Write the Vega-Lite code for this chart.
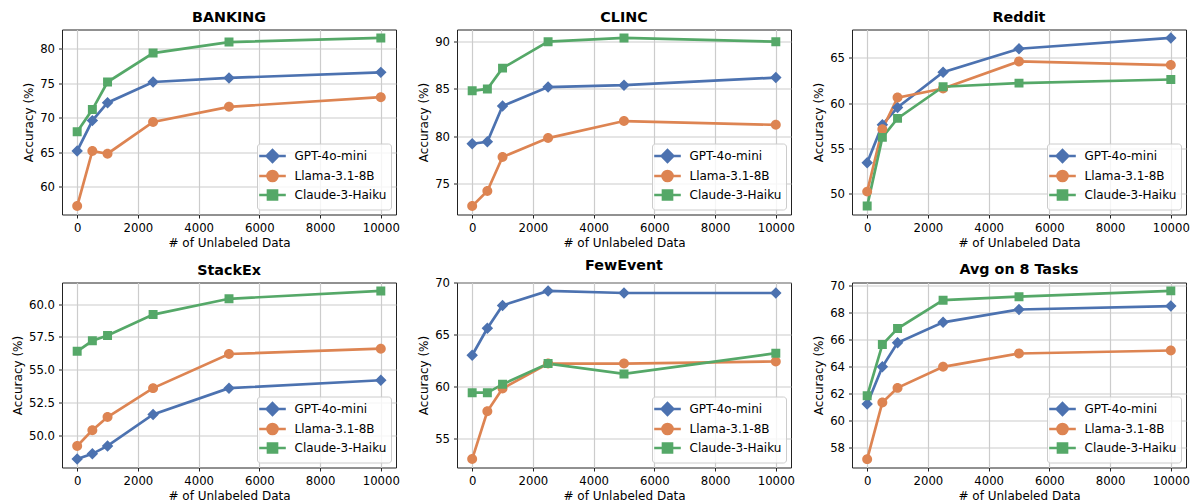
{
"$schema": "https://vega.github.io/schema/vega-lite/v6.json",
"background": "white",
"padding": {"left": 10, "top": 10.5, "right": 5, "bottom": 5},
"config": {
  "font": "DejaVu Sans",
  "view": {"stroke": "#222222", "strokeWidth": 1},
  "title": {"font": "DejaVu Sans", "fontSize": 14.3, "fontWeight": "bold", "color": "#000000", "offset": 4},
  "axis": {"labelFont": "DejaVu Sans", "labelFontSize": 11.7, "labelColor": "#000000", "titleFont": "DejaVu Sans", "titleFontSize": 12, "titleFontWeight": "normal", "titleColor": "#000000", "tickColor": "#222222", "tickSize": 3.5, "tickWidth": 1, "domain": false, "gridColor": "#cccccc", "gridWidth": 1.2, "labelPadding": 4, "titlePadding": 4, "labelFlush": false, "labelOverlap": false},
  "legend": {"orient": "bottom-right", "offset": 5, "symbolSize": 196, "symbolStrokeWidth": 2.7, "symbolOffset": 3, "labelFont": "DejaVu Sans", "labelFontSize": 12, "labelColor": "#000000", "padding": 4, "rowPadding": -3, "labelOffset": 13.5, "fillColor": "rgba(255,255,255,0.8)", "strokeColor": "#cccccc", "cornerRadius": 3}
},
"data": {"values": [
{"task":"BANKING","model":"GPT-4o-mini","n":0,"acc":65.2},
{"task":"BANKING","model":"GPT-4o-mini","n":500,"acc":69.6},
{"task":"BANKING","model":"GPT-4o-mini","n":1000,"acc":72.2},
{"task":"BANKING","model":"GPT-4o-mini","n":2500,"acc":75.2},
{"task":"BANKING","model":"GPT-4o-mini","n":5000,"acc":75.8},
{"task":"BANKING","model":"GPT-4o-mini","n":10000,"acc":76.6},
{"task":"BANKING","model":"Llama-3.1-8B","n":0,"acc":57.2},
{"task":"BANKING","model":"Llama-3.1-8B","n":500,"acc":65.2},
{"task":"BANKING","model":"Llama-3.1-8B","n":1000,"acc":64.8},
{"task":"BANKING","model":"Llama-3.1-8B","n":2500,"acc":69.4},
{"task":"BANKING","model":"Llama-3.1-8B","n":5000,"acc":71.6},
{"task":"BANKING","model":"Llama-3.1-8B","n":10000,"acc":73.0},
{"task":"BANKING","model":"Claude-3-Haiku","n":0,"acc":68.0},
{"task":"BANKING","model":"Claude-3-Haiku","n":500,"acc":71.2},
{"task":"BANKING","model":"Claude-3-Haiku","n":1000,"acc":75.2},
{"task":"BANKING","model":"Claude-3-Haiku","n":2500,"acc":79.4},
{"task":"BANKING","model":"Claude-3-Haiku","n":5000,"acc":81.0},
{"task":"BANKING","model":"Claude-3-Haiku","n":10000,"acc":81.6},
{"task":"CLINC","model":"GPT-4o-mini","n":0,"acc":79.2},
{"task":"CLINC","model":"GPT-4o-mini","n":500,"acc":79.4},
{"task":"CLINC","model":"GPT-4o-mini","n":1000,"acc":83.2},
{"task":"CLINC","model":"GPT-4o-mini","n":2500,"acc":85.2},
{"task":"CLINC","model":"GPT-4o-mini","n":5000,"acc":85.4},
{"task":"CLINC","model":"GPT-4o-mini","n":10000,"acc":86.2},
{"task":"CLINC","model":"Llama-3.1-8B","n":0,"acc":72.6},
{"task":"CLINC","model":"Llama-3.1-8B","n":500,"acc":74.2},
{"task":"CLINC","model":"Llama-3.1-8B","n":1000,"acc":77.8},
{"task":"CLINC","model":"Llama-3.1-8B","n":2500,"acc":79.8},
{"task":"CLINC","model":"Llama-3.1-8B","n":5000,"acc":81.6},
{"task":"CLINC","model":"Llama-3.1-8B","n":10000,"acc":81.2},
{"task":"CLINC","model":"Claude-3-Haiku","n":0,"acc":84.8},
{"task":"CLINC","model":"Claude-3-Haiku","n":500,"acc":85.0},
{"task":"CLINC","model":"Claude-3-Haiku","n":1000,"acc":87.2},
{"task":"CLINC","model":"Claude-3-Haiku","n":2500,"acc":90.0},
{"task":"CLINC","model":"Claude-3-Haiku","n":5000,"acc":90.4},
{"task":"CLINC","model":"Claude-3-Haiku","n":10000,"acc":90.0},
{"task":"Reddit","model":"GPT-4o-mini","n":0,"acc":53.4},
{"task":"Reddit","model":"GPT-4o-mini","n":500,"acc":57.6},
{"task":"Reddit","model":"GPT-4o-mini","n":1000,"acc":59.5},
{"task":"Reddit","model":"GPT-4o-mini","n":2500,"acc":63.4},
{"task":"Reddit","model":"GPT-4o-mini","n":5000,"acc":66.0},
{"task":"Reddit","model":"GPT-4o-mini","n":10000,"acc":67.2},
{"task":"Reddit","model":"Llama-3.1-8B","n":0,"acc":50.2},
{"task":"Reddit","model":"Llama-3.1-8B","n":500,"acc":57.1},
{"task":"Reddit","model":"Llama-3.1-8B","n":1000,"acc":60.6},
{"task":"Reddit","model":"Llama-3.1-8B","n":2500,"acc":61.6},
{"task":"Reddit","model":"Llama-3.1-8B","n":5000,"acc":64.6},
{"task":"Reddit","model":"Llama-3.1-8B","n":10000,"acc":64.2},
{"task":"Reddit","model":"Claude-3-Haiku","n":0,"acc":48.6},
{"task":"Reddit","model":"Claude-3-Haiku","n":500,"acc":56.2},
{"task":"Reddit","model":"Claude-3-Haiku","n":1000,"acc":58.3},
{"task":"Reddit","model":"Claude-3-Haiku","n":2500,"acc":61.8},
{"task":"Reddit","model":"Claude-3-Haiku","n":5000,"acc":62.2},
{"task":"Reddit","model":"Claude-3-Haiku","n":10000,"acc":62.6},
{"task":"StackEx","model":"GPT-4o-mini","n":0,"acc":48.2},
{"task":"StackEx","model":"GPT-4o-mini","n":500,"acc":48.6},
{"task":"StackEx","model":"GPT-4o-mini","n":1000,"acc":49.2},
{"task":"StackEx","model":"GPT-4o-mini","n":2500,"acc":51.6},
{"task":"StackEx","model":"GPT-4o-mini","n":5000,"acc":53.6},
{"task":"StackEx","model":"GPT-4o-mini","n":10000,"acc":54.2},
{"task":"StackEx","model":"Llama-3.1-8B","n":0,"acc":49.2},
{"task":"StackEx","model":"Llama-3.1-8B","n":500,"acc":50.4},
{"task":"StackEx","model":"Llama-3.1-8B","n":1000,"acc":51.4},
{"task":"StackEx","model":"Llama-3.1-8B","n":2500,"acc":53.6},
{"task":"StackEx","model":"Llama-3.1-8B","n":5000,"acc":56.2},
{"task":"StackEx","model":"Llama-3.1-8B","n":10000,"acc":56.6},
{"task":"StackEx","model":"Claude-3-Haiku","n":0,"acc":56.4},
{"task":"StackEx","model":"Claude-3-Haiku","n":500,"acc":57.2},
{"task":"StackEx","model":"Claude-3-Haiku","n":1000,"acc":57.6},
{"task":"StackEx","model":"Claude-3-Haiku","n":2500,"acc":59.2},
{"task":"StackEx","model":"Claude-3-Haiku","n":5000,"acc":60.4},
{"task":"StackEx","model":"Claude-3-Haiku","n":10000,"acc":61.0},
{"task":"FewEvent","model":"GPT-4o-mini","n":0,"acc":63.0},
{"task":"FewEvent","model":"GPT-4o-mini","n":500,"acc":65.6},
{"task":"FewEvent","model":"GPT-4o-mini","n":1000,"acc":67.8},
{"task":"FewEvent","model":"GPT-4o-mini","n":2500,"acc":69.2},
{"task":"FewEvent","model":"GPT-4o-mini","n":5000,"acc":69.0},
{"task":"FewEvent","model":"GPT-4o-mini","n":10000,"acc":69.0},
{"task":"FewEvent","model":"Llama-3.1-8B","n":0,"acc":53.0},
{"task":"FewEvent","model":"Llama-3.1-8B","n":500,"acc":57.6},
{"task":"FewEvent","model":"Llama-3.1-8B","n":1000,"acc":59.8},
{"task":"FewEvent","model":"Llama-3.1-8B","n":2500,"acc":62.2},
{"task":"FewEvent","model":"Llama-3.1-8B","n":5000,"acc":62.2},
{"task":"FewEvent","model":"Llama-3.1-8B","n":10000,"acc":62.4},
{"task":"FewEvent","model":"Claude-3-Haiku","n":0,"acc":59.4},
{"task":"FewEvent","model":"Claude-3-Haiku","n":500,"acc":59.4},
{"task":"FewEvent","model":"Claude-3-Haiku","n":1000,"acc":60.2},
{"task":"FewEvent","model":"Claude-3-Haiku","n":2500,"acc":62.2},
{"task":"FewEvent","model":"Claude-3-Haiku","n":5000,"acc":61.2},
{"task":"FewEvent","model":"Claude-3-Haiku","n":10000,"acc":63.2},
{"task":"Avg","model":"GPT-4o-mini","n":0,"acc":61.25},
{"task":"Avg","model":"GPT-4o-mini","n":500,"acc":64.0},
{"task":"Avg","model":"GPT-4o-mini","n":1000,"acc":65.78},
{"task":"Avg","model":"GPT-4o-mini","n":2500,"acc":67.3},
{"task":"Avg","model":"GPT-4o-mini","n":5000,"acc":68.25},
{"task":"Avg","model":"GPT-4o-mini","n":10000,"acc":68.5},
{"task":"Avg","model":"Llama-3.1-8B","n":0,"acc":57.16},
{"task":"Avg","model":"Llama-3.1-8B","n":500,"acc":61.36},
{"task":"Avg","model":"Llama-3.1-8B","n":1000,"acc":62.44},
{"task":"Avg","model":"Llama-3.1-8B","n":2500,"acc":64.0},
{"task":"Avg","model":"Llama-3.1-8B","n":5000,"acc":64.99},
{"task":"Avg","model":"Llama-3.1-8B","n":10000,"acc":65.21},
{"task":"Avg","model":"Claude-3-Haiku","n":0,"acc":61.85},
{"task":"Avg","model":"Claude-3-Haiku","n":500,"acc":65.65},
{"task":"Avg","model":"Claude-3-Haiku","n":1000,"acc":66.84},
{"task":"Avg","model":"Claude-3-Haiku","n":2500,"acc":68.94},
{"task":"Avg","model":"Claude-3-Haiku","n":5000,"acc":69.2},
{"task":"Avg","model":"Claude-3-Haiku","n":10000,"acc":69.63}
]},
"columns": 3,
"bounds": "flush",
"spacing": {"row": 68, "column": 61},
"resolve": {"scale": {"x": "independent", "y": "independent", "color": "independent", "fill": "independent", "stroke": "independent", "shape": "independent"}, "legend": {"color": "independent", "fill": "independent", "stroke": "independent", "shape": "independent"}},
"concat": [
{"title": "BANKING", "width": 334, "height": 185,
 "transform": [{"filter": {"field": "task", "equal": "BANKING"}}],
 "encoding": {
   "x": {"field": "n", "type": "quantitative", "title": "# of Unlabeled Data", "scale": {"domain": [-500, 10500], "nice": false, "zero": false}, "axis": {"values": [0, 2000, 4000, 6000, 8000, 10000], "format": "d"}},
   "y": {"field": "acc", "type": "quantitative", "title": "Accuracy (%)", "scale": {"domain": [55.98, 82.82], "nice": false, "zero": false}, "axis": {"values": [60, 65, 70, 75, 80], "format": "d"}}
 },
 "layer": [
  {"mark": {"type": "line", "strokeWidth": 2.7}, "encoding": {"color": {"field": "model", "type": "nominal", "scale": {"domain": ["Claude-3-Haiku", "GPT-4o-mini", "Llama-3.1-8B"], "range": ["#55A868", "#4C72B0", "#DD8452"]}, "legend": null}}},
  {"mark": {"type": "point", "filled": true, "opacity": 1}, "encoding": {
    "fill": {"field": "model", "type": "nominal", "scale": {"domain": ["GPT-4o-mini", "Llama-3.1-8B", "Claude-3-Haiku"], "range": ["#4C72B0", "#DD8452", "#55A868"]}, "legend": {"title": null}},
    "stroke": {"field": "model", "type": "nominal", "scale": {"domain": ["GPT-4o-mini", "Llama-3.1-8B", "Claude-3-Haiku"], "range": ["#4C72B0", "#DD8452", "#55A868"]}, "legend": {"title": null}},
    "shape": {"field": "model", "type": "nominal", "scale": {"domain": ["GPT-4o-mini", "Llama-3.1-8B", "Claude-3-Haiku"], "range": ["M-1.9,0H1.9M0,-0.82L0.82,0L0,0.82L-0.82,0Z", "M-1.9,0H1.9M-0.71,0A0.71,0.71 0 1,0 0.71,0A0.71,0.71 0 1,0 -0.71,0Z", "M-1.9,0H1.9M-0.64,-0.64H0.64V0.64H-0.64Z"]}, "legend": {"title": null}},
    "strokeWidth": {"value": 0},
    "size": {"value": 196}}}
 ]},
{"title": "CLINC", "width": 334, "height": 185,
 "transform": [{"filter": {"field": "task", "equal": "CLINC"}}],
 "encoding": {
   "x": {"field": "n", "type": "quantitative", "title": "# of Unlabeled Data", "scale": {"domain": [-500, 10500], "nice": false, "zero": false}, "axis": {"values": [0, 2000, 4000, 6000, 8000, 10000], "format": "d"}},
   "y": {"field": "acc", "type": "quantitative", "title": "Accuracy (%)", "scale": {"domain": [71.71, 91.29], "nice": false, "zero": false}, "axis": {"values": [75, 80, 85, 90], "format": "d"}}
 },
 "layer": [
  {"mark": {"type": "line", "strokeWidth": 2.7}, "encoding": {"color": {"field": "model", "type": "nominal", "scale": {"domain": ["Claude-3-Haiku", "GPT-4o-mini", "Llama-3.1-8B"], "range": ["#55A868", "#4C72B0", "#DD8452"]}, "legend": null}}},
  {"mark": {"type": "point", "filled": true, "opacity": 1}, "encoding": {
    "fill": {"field": "model", "type": "nominal", "scale": {"domain": ["GPT-4o-mini", "Llama-3.1-8B", "Claude-3-Haiku"], "range": ["#4C72B0", "#DD8452", "#55A868"]}, "legend": {"title": null}},
    "stroke": {"field": "model", "type": "nominal", "scale": {"domain": ["GPT-4o-mini", "Llama-3.1-8B", "Claude-3-Haiku"], "range": ["#4C72B0", "#DD8452", "#55A868"]}, "legend": {"title": null}},
    "shape": {"field": "model", "type": "nominal", "scale": {"domain": ["GPT-4o-mini", "Llama-3.1-8B", "Claude-3-Haiku"], "range": ["M-1.9,0H1.9M0,-0.82L0.82,0L0,0.82L-0.82,0Z", "M-1.9,0H1.9M-0.71,0A0.71,0.71 0 1,0 0.71,0A0.71,0.71 0 1,0 -0.71,0Z", "M-1.9,0H1.9M-0.64,-0.64H0.64V0.64H-0.64Z"]}, "legend": {"title": null}},
    "strokeWidth": {"value": 0},
    "size": {"value": 196}}}
 ]},
{"title": "Reddit", "width": 334, "height": 185,
 "transform": [{"filter": {"field": "task", "equal": "Reddit"}}],
 "encoding": {
   "x": {"field": "n", "type": "quantitative", "title": "# of Unlabeled Data", "scale": {"domain": [-500, 10500], "nice": false, "zero": false}, "axis": {"values": [0, 2000, 4000, 6000, 8000, 10000], "format": "d"}},
   "y": {"field": "acc", "type": "quantitative", "title": "Accuracy (%)", "scale": {"domain": [47.67, 68.13], "nice": false, "zero": false}, "axis": {"values": [50, 55, 60, 65], "format": "d"}}
 },
 "layer": [
  {"mark": {"type": "line", "strokeWidth": 2.7}, "encoding": {"color": {"field": "model", "type": "nominal", "scale": {"domain": ["Claude-3-Haiku", "GPT-4o-mini", "Llama-3.1-8B"], "range": ["#55A868", "#4C72B0", "#DD8452"]}, "legend": null}}},
  {"mark": {"type": "point", "filled": true, "opacity": 1}, "encoding": {
    "fill": {"field": "model", "type": "nominal", "scale": {"domain": ["GPT-4o-mini", "Llama-3.1-8B", "Claude-3-Haiku"], "range": ["#4C72B0", "#DD8452", "#55A868"]}, "legend": {"title": null}},
    "stroke": {"field": "model", "type": "nominal", "scale": {"domain": ["GPT-4o-mini", "Llama-3.1-8B", "Claude-3-Haiku"], "range": ["#4C72B0", "#DD8452", "#55A868"]}, "legend": {"title": null}},
    "shape": {"field": "model", "type": "nominal", "scale": {"domain": ["GPT-4o-mini", "Llama-3.1-8B", "Claude-3-Haiku"], "range": ["M-1.9,0H1.9M0,-0.82L0.82,0L0,0.82L-0.82,0Z", "M-1.9,0H1.9M-0.71,0A0.71,0.71 0 1,0 0.71,0A0.71,0.71 0 1,0 -0.71,0Z", "M-1.9,0H1.9M-0.64,-0.64H0.64V0.64H-0.64Z"]}, "legend": {"title": null}},
    "strokeWidth": {"value": 0},
    "size": {"value": 196}}}
 ]},
{"title": "StackEx", "width": 334, "height": 185,
 "transform": [{"filter": {"field": "task", "equal": "StackEx"}}],
 "encoding": {
   "x": {"field": "n", "type": "quantitative", "title": "# of Unlabeled Data", "scale": {"domain": [-500, 10500], "nice": false, "zero": false}, "axis": {"values": [0, 2000, 4000, 6000, 8000, 10000], "format": "d"}},
   "y": {"field": "acc", "type": "quantitative", "title": "Accuracy (%)", "scale": {"domain": [47.56, 61.64], "nice": false, "zero": false}, "axis": {"values": [50, 52.5, 55, 57.5, 60], "format": ".1f"}}
 },
 "layer": [
  {"mark": {"type": "line", "strokeWidth": 2.7}, "encoding": {"color": {"field": "model", "type": "nominal", "scale": {"domain": ["Claude-3-Haiku", "GPT-4o-mini", "Llama-3.1-8B"], "range": ["#55A868", "#4C72B0", "#DD8452"]}, "legend": null}}},
  {"mark": {"type": "point", "filled": true, "opacity": 1}, "encoding": {
    "fill": {"field": "model", "type": "nominal", "scale": {"domain": ["GPT-4o-mini", "Llama-3.1-8B", "Claude-3-Haiku"], "range": ["#4C72B0", "#DD8452", "#55A868"]}, "legend": {"title": null}},
    "stroke": {"field": "model", "type": "nominal", "scale": {"domain": ["GPT-4o-mini", "Llama-3.1-8B", "Claude-3-Haiku"], "range": ["#4C72B0", "#DD8452", "#55A868"]}, "legend": {"title": null}},
    "shape": {"field": "model", "type": "nominal", "scale": {"domain": ["GPT-4o-mini", "Llama-3.1-8B", "Claude-3-Haiku"], "range": ["M-1.9,0H1.9M0,-0.82L0.82,0L0,0.82L-0.82,0Z", "M-1.9,0H1.9M-0.71,0A0.71,0.71 0 1,0 0.71,0A0.71,0.71 0 1,0 -0.71,0Z", "M-1.9,0H1.9M-0.64,-0.64H0.64V0.64H-0.64Z"]}, "legend": {"title": null}},
    "strokeWidth": {"value": 0},
    "size": {"value": 196}}}
 ]},
{"title": "FewEvent", "width": 334, "height": 185,
 "transform": [{"filter": {"field": "task", "equal": "FewEvent"}}],
 "encoding": {
   "x": {"field": "n", "type": "quantitative", "title": "# of Unlabeled Data", "scale": {"domain": [-500, 10500], "nice": false, "zero": false}, "axis": {"values": [0, 2000, 4000, 6000, 8000, 10000], "format": "d"}},
   "y": {"field": "acc", "type": "quantitative", "title": "Accuracy (%)", "scale": {"domain": [52.19, 70.01], "nice": false, "zero": false}, "axis": {"values": [55, 60, 65, 70], "format": "d"}}
 },
 "layer": [
  {"mark": {"type": "line", "strokeWidth": 2.7}, "encoding": {"color": {"field": "model", "type": "nominal", "scale": {"domain": ["Claude-3-Haiku", "GPT-4o-mini", "Llama-3.1-8B"], "range": ["#55A868", "#4C72B0", "#DD8452"]}, "legend": null}}},
  {"mark": {"type": "point", "filled": true, "opacity": 1}, "encoding": {
    "fill": {"field": "model", "type": "nominal", "scale": {"domain": ["GPT-4o-mini", "Llama-3.1-8B", "Claude-3-Haiku"], "range": ["#4C72B0", "#DD8452", "#55A868"]}, "legend": {"title": null}},
    "stroke": {"field": "model", "type": "nominal", "scale": {"domain": ["GPT-4o-mini", "Llama-3.1-8B", "Claude-3-Haiku"], "range": ["#4C72B0", "#DD8452", "#55A868"]}, "legend": {"title": null}},
    "shape": {"field": "model", "type": "nominal", "scale": {"domain": ["GPT-4o-mini", "Llama-3.1-8B", "Claude-3-Haiku"], "range": ["M-1.9,0H1.9M0,-0.82L0.82,0L0,0.82L-0.82,0Z", "M-1.9,0H1.9M-0.71,0A0.71,0.71 0 1,0 0.71,0A0.71,0.71 0 1,0 -0.71,0Z", "M-1.9,0H1.9M-0.64,-0.64H0.64V0.64H-0.64Z"]}, "legend": {"title": null}},
    "strokeWidth": {"value": 0},
    "size": {"value": 196}}}
 ]},
{"title": "Avg on 8 Tasks", "width": 334, "height": 185,
 "transform": [{"filter": {"field": "task", "equal": "Avg"}}],
 "encoding": {
   "x": {"field": "n", "type": "quantitative", "title": "# of Unlabeled Data", "scale": {"domain": [-500, 10500], "nice": false, "zero": false}, "axis": {"values": [0, 2000, 4000, 6000, 8000, 10000], "format": "d"}},
   "y": {"field": "acc", "type": "quantitative", "title": "Accuracy (%)", "scale": {"domain": [56.54, 70.25], "nice": false, "zero": false}, "axis": {"values": [58, 60, 62, 64, 66, 68, 70], "format": "d"}}
 },
 "layer": [
  {"mark": {"type": "line", "strokeWidth": 2.7}, "encoding": {"color": {"field": "model", "type": "nominal", "scale": {"domain": ["Claude-3-Haiku", "GPT-4o-mini", "Llama-3.1-8B"], "range": ["#55A868", "#4C72B0", "#DD8452"]}, "legend": null}}},
  {"mark": {"type": "point", "filled": true, "opacity": 1}, "encoding": {
    "fill": {"field": "model", "type": "nominal", "scale": {"domain": ["GPT-4o-mini", "Llama-3.1-8B", "Claude-3-Haiku"], "range": ["#4C72B0", "#DD8452", "#55A868"]}, "legend": {"title": null}},
    "stroke": {"field": "model", "type": "nominal", "scale": {"domain": ["GPT-4o-mini", "Llama-3.1-8B", "Claude-3-Haiku"], "range": ["#4C72B0", "#DD8452", "#55A868"]}, "legend": {"title": null}},
    "shape": {"field": "model", "type": "nominal", "scale": {"domain": ["GPT-4o-mini", "Llama-3.1-8B", "Claude-3-Haiku"], "range": ["M-1.9,0H1.9M0,-0.82L0.82,0L0,0.82L-0.82,0Z", "M-1.9,0H1.9M-0.71,0A0.71,0.71 0 1,0 0.71,0A0.71,0.71 0 1,0 -0.71,0Z", "M-1.9,0H1.9M-0.64,-0.64H0.64V0.64H-0.64Z"]}, "legend": {"title": null}},
    "strokeWidth": {"value": 0},
    "size": {"value": 196}}}
 ]}
]
}
